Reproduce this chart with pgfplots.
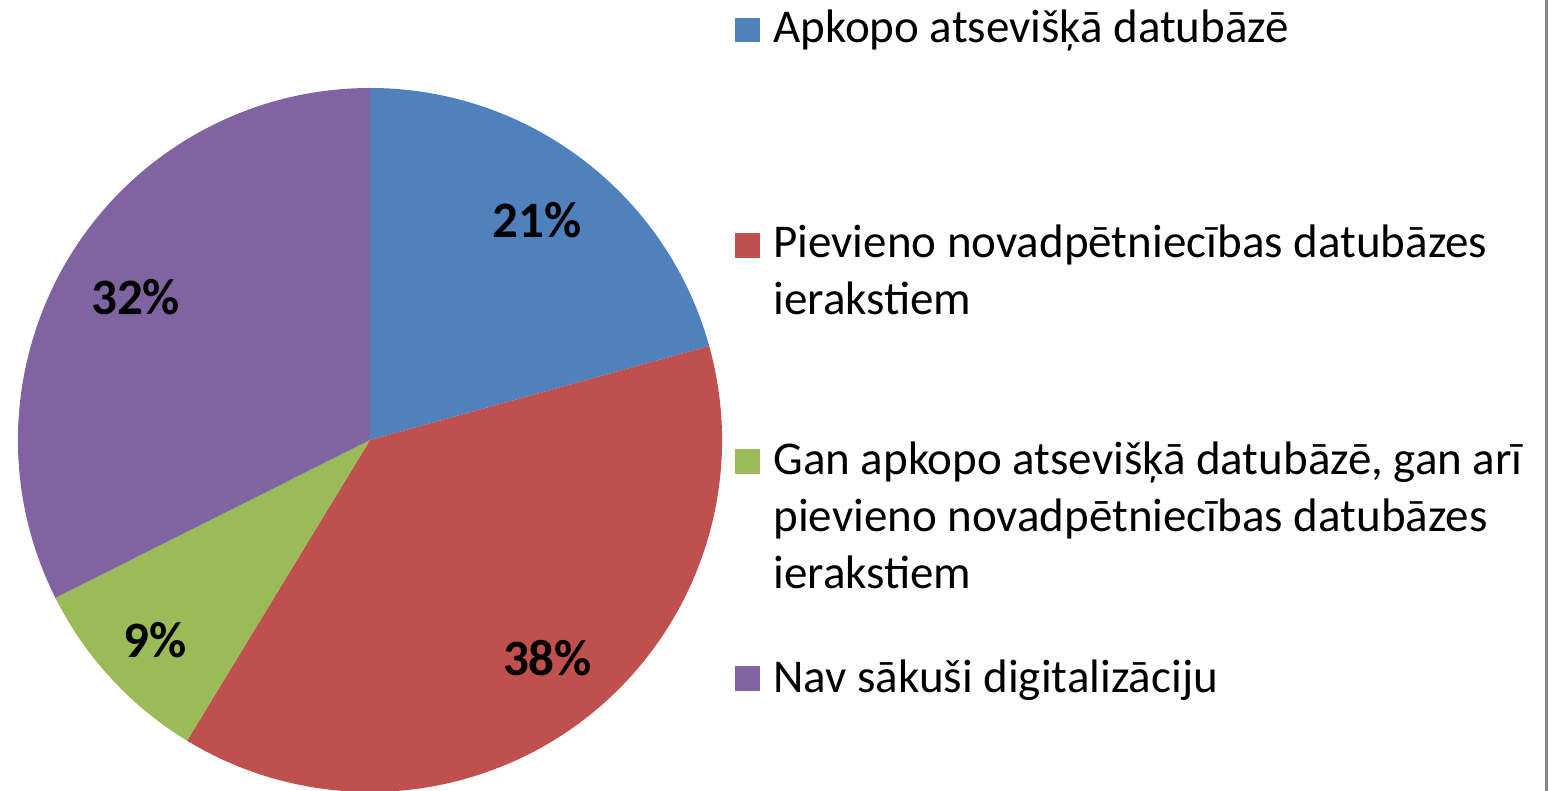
\documentclass[border=0pt]{standalone}
\usepackage{pgfplots}
\pgfplotsset{compat=1.18}
\usepackage{fontspec}
\setmainfont{Carlito}
\definecolor{cBlue}{HTML}{4F81BD}
\definecolor{cRed}{HTML}{C0504D}
\definecolor{cGreen}{HTML}{9BBB59}
\definecolor{cPurple}{HTML}{8064A2}
\definecolor{cFrame}{HTML}{868686}
\tikzset{
  pielabel/.style={font=\fontsize{25.5pt}{30pt}\selectfont\bfseries, text=black, inner sep=0pt},
  legtext/.style={font=\fontsize{23.5pt}{28pt}\selectfont, text=black, anchor=base west, inner sep=0pt},
}
% pie centre and radius (axis units: 1 unit = 1 px = 0.5pt)
\newcommand\pcx{370}
\newcommand\pcy{-440}
\newcommand\pR{176}
% #1 cumulative percent before slice, #2 percent, #3 colour, #4 label,
% #5 label radius fraction, #6 label angle shift
\newcommand\pieslice[6]{%
  \pgfmathsetmacro\sa{90-3.6*#1}%
  \pgfmathsetmacro\ea{90-3.6*(#1+#2)}%
  \pgfmathsetmacro\ma{(\sa+\ea)/2+#6}%
  \pgfmathsetmacro\lr{#5*\pR}%
  \edef\tmp{\noexpand\fill[#3] (axis cs:\pcx,\pcy) -- ++(\sa:\pR pt) arc[start angle=\sa,end angle=\ea,radius=\pR pt] -- cycle;%
    \noexpand\path (axis cs:\pcx,\pcy) ++(\ma:\lr pt) node[pielabel] {#4\noexpand\%};}%
  \tmp}
\begin{document}
\begin{tikzpicture}
\begin{axis}[
  width=774pt, height=395.5pt, scale only axis,
  xmin=0, xmax=1548, ymin=-791, ymax=0,
  hide axis, clip=true,
]
\coordinate (bl) at (axis cs:0,-791);
\coordinate (tr) at (axis cs:1548,0);
% data (percent): 20.7, 38.0, 8.9, 32.4 -> labelled 21, 38, 9, 32
\pieslice{0}{20.7}{cBlue}{21}{0.785}{0}
\pieslice{20.7}{38.0}{cRed}{38}{0.80}{2}
\pieslice{58.7}{8.9}{cGreen}{9}{0.835}{0.3}
\pieslice{67.6}{32.4}{cPurple}{32}{0.78}{0.3}
% legend
\fill[cBlue]   (axis cs:735,-18)  rectangle (axis cs:760,-42);
\fill[cRed]    (axis cs:735,-233) rectangle (axis cs:760,-258);
\fill[cGreen]  (axis cs:735,-449) rectangle (axis cs:760,-474);
\fill[cPurple] (axis cs:735,-666) rectangle (axis cs:760,-691);
\node[legtext] at (axis cs:773,-43)  {Apkopo atsevišķā datubāzē};
\node[legtext] at (axis cs:773,-258) {Pievieno novadpētniecības datubāzes};
\node[legtext] at (axis cs:773,-315) {ierakstiem};
\node[legtext] at (axis cs:773,-475) {Gan apkopo atsevišķā datubāzē, gan arī};
\node[legtext] at (axis cs:773,-532) {pievieno novadpētniecības datubāzes};
\node[legtext] at (axis cs:773,-589) {ierakstiem};
\node[legtext] at (axis cs:773,-693) {Nav sākuši digitalizāciju};
% right frame edge
\fill[cFrame] (axis cs:1545,0) rectangle (axis cs:1548,-791);
\end{axis}
\pgfresetboundingbox
\path[use as bounding box] (bl) rectangle (tr);
\end{tikzpicture}
\end{document}
